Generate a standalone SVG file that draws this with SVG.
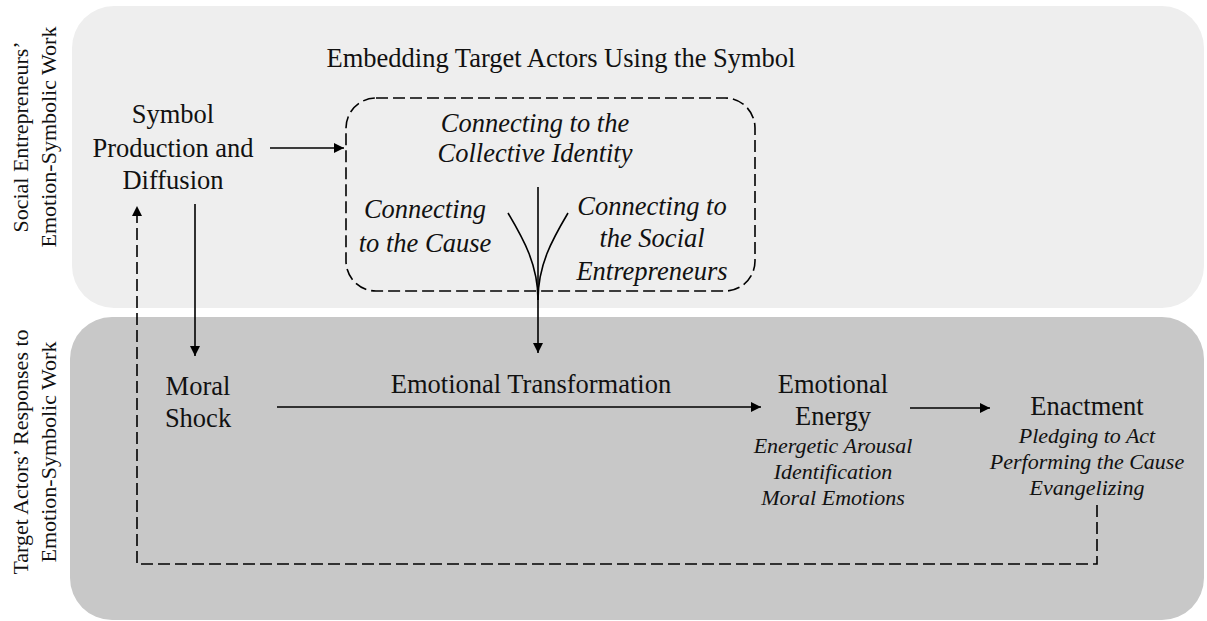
<svg xmlns="http://www.w3.org/2000/svg" width="1207" height="621" viewBox="0 0 1207 621">
<defs>
<style>
.t{font-family:"Liberation Serif","Times New Roman",serif;font-size:26.5px;fill:#111;text-anchor:middle}
.i{font-family:"Liberation Serif","Times New Roman",serif;font-size:26.5px;font-style:italic;fill:#111;text-anchor:middle}
.s{font-family:"Liberation Serif","Times New Roman",serif;font-size:22px;font-style:italic;fill:#111;text-anchor:middle}
.v{font-family:"Liberation Serif","Times New Roman",serif;font-size:22px;fill:#111;text-anchor:middle}
.ln{fill:none;stroke:#000;stroke-width:1.6}
.dl{fill:none;stroke:#000;stroke-width:1.6;stroke-dasharray:12 5}
</style>
<marker id="ah" viewBox="0 0 10 10" refX="10" refY="5" markerWidth="10" markerHeight="10" markerUnits="userSpaceOnUse" orient="auto">
<path d="M0,0 L10,5 L0,10 z" fill="#000"/>
</marker>
</defs>
<rect width="1207" height="621" fill="#fff"/>
<g id="band-top">
<rect x="72" y="6" width="1132" height="302" rx="42" fill="#eeeeee"/>
<text class="v" transform="translate(28,137) rotate(-90)">Social Entrepreneurs’</text>
<text class="v" transform="translate(56,137) rotate(-90)">Emotion-Symbolic Work</text>
</g>
<g id="band-bottom">
<rect x="70" y="317" width="1134" height="303" rx="42" fill="#c8c8c8"/>
<text class="v" transform="translate(28,452) rotate(-90)">Target Actors’ Responses to</text>
<text class="v" transform="translate(56,452) rotate(-90)">Emotion-Symbolic Work</text>
</g>
<g id="title">
<text class="t" x="561" y="67">Embedding Target Actors Using the Symbol</text>
</g>
<g id="symbol">
<text class="t" x="173" y="123">Symbol</text>
<text class="t" x="173" y="157">Production and</text>
<text class="t" x="173" y="189">Diffusion</text>
</g>
<g id="embedding-box">
<rect x="346" y="98" width="409" height="193" rx="30" class="dl"/>
<text class="i" x="535" y="132">Connecting to the</text>
<text class="i" x="535" y="162">Collective Identity</text>
<text class="i" x="425" y="218">Connecting</text>
<text class="i" x="425" y="252">to the Cause</text>
<text class="i" x="652" y="215">Connecting to</text>
<text class="i" x="652" y="247">the Social</text>
<text class="i" x="652" y="280">Entrepreneurs</text>
</g>
<g id="moral-shock">
<text class="t" x="198" y="395">Moral</text>
<text class="t" x="198" y="427">Shock</text>
</g>
<g id="transformation">
<text class="t" x="531" y="393">Emotional Transformation</text>
</g>
<g id="emotional-energy">
<text class="t" x="833" y="393">Emotional</text>
<text class="t" x="833" y="425">Energy</text>
<text class="s" x="833" y="453">Energetic Arousal</text>
<text class="s" x="833" y="479">Identification</text>
<text class="s" x="833" y="505">Moral Emotions</text>
</g>
<g id="enactment">
<text class="t" x="1087" y="415">Enactment</text>
<text class="s" x="1087" y="443">Pledging to Act</text>
<text class="s" x="1087" y="469">Performing the Cause</text>
<text class="s" x="1087" y="495">Evangelizing</text>
</g>
<g id="connectors">
<line class="ln" x1="270" y1="148" x2="344" y2="148" marker-end="url(#ah)"/>
<line class="ln" x1="195" y1="204" x2="195" y2="356" marker-end="url(#ah)"/>
<line class="ln" x1="538" y1="187" x2="538" y2="353" marker-end="url(#ah)"/>
<path class="ln" d="M508,213 C524,240 538,265 538,300"/>
<path class="ln" d="M568,213 C552,240 538,265 538,300"/>
<line class="ln" x1="277" y1="407" x2="761" y2="407" marker-end="url(#ah)"/>
<line class="ln" x1="910" y1="408" x2="990" y2="408" marker-end="url(#ah)"/>
<path class="dl" d="M1097,505 L1097,564 L137,564 L137,206" marker-end="url(#ah)"/>
</g>
</svg>
